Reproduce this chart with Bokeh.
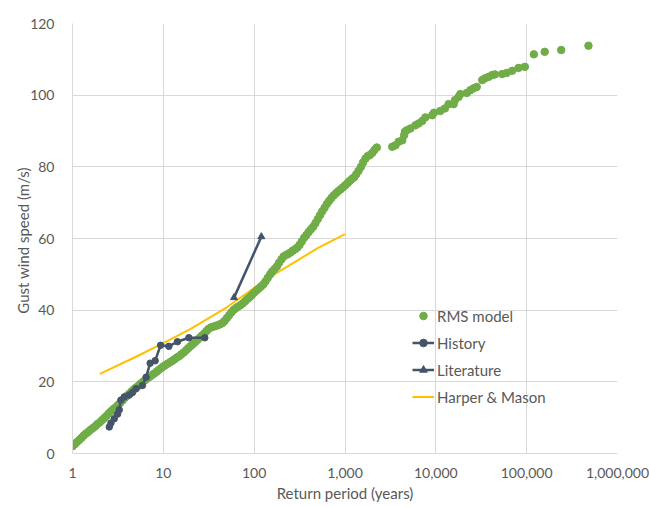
from bokeh.plotting import figure
from bokeh.models import Legend, LegendItem, FixedTicker, NumeralTickFormatter
from bokeh.embed import file_html
from bokeh.resources import INLINE

# ---------------- data ----------------
rms_T = [1.00, 1.06, 1.12, 1.19, 1.26, 1.33, 1.41, 1.50, 1.58, 1.68, 1.78, 1.88, 2.00, 2.11, 2.24, 2.37,
         2.51, 2.66, 2.82, 2.99, 3.16, 3.35, 3.55, 3.76, 3.98, 4.22, 4.47, 4.73, 5.01, 5.31, 5.62, 5.96,
         6.31, 6.68, 7.08, 7.50, 7.94, 8.41, 8.91, 9.44,
         10.0, 10.6, 11.2, 11.9, 12.6, 13.3, 14.1, 15.0, 15.8, 16.8, 17.8, 18.8, 20.0, 21.1, 22.4, 23.7,
         25.1, 26.6, 28.2, 29.9, 31.6, 33.5, 35.5, 37.6, 39.8, 42.2, 44.7, 47.3, 50.1, 53.1, 56.2, 59.6,
         63.1, 66.8, 70.8, 75.0, 79.4, 84.1, 89.1, 94.4,
         100, 106, 112, 119, 126, 133, 141, 150, 158, 168, 178, 188, 200, 211, 224, 237,
         251, 266, 282, 299, 316, 335, 355, 376, 398, 422, 447, 473, 501, 531, 562, 596,
         631, 668, 708, 750, 794, 841, 891, 944,
         1000, 1060, 1120, 1190, 1260, 1330, 1410, 1500, 1580, 1680, 1780, 1880, 2000, 2110, 2240,
         3310, 3590, 3890, 4270, 4470, 4570, 4790, 5250, 5960, 6460, 7080, 7670, 9120, 9550,
         11200, 12600, 13800, 15700, 16200, 17800, 18600, 21900, 24000, 26000, 28200, 32400,
         34700, 38000, 41700, 44700, 53700, 60300, 69200, 81300, 95500,
         120000, 158000, 240000, 479000]
rms_V = [2.0, 2.6, 3.2, 3.8, 4.4, 5.0, 5.6, 6.1, 6.6, 7.1, 7.6, 8.2, 8.7, 9.3, 9.9, 10.5,
         11.2, 11.8, 12.4, 12.9, 13.5, 14.1, 14.8, 15.5, 16.1, 16.7, 17.3, 17.9, 18.4, 18.9, 19.5, 20.0,
         20.5, 21.0, 21.4, 21.9, 22.3, 22.8, 23.3, 23.8,
         24.3, 24.7, 25.1, 25.5, 25.9, 26.3, 26.8, 27.2, 27.7, 28.2, 28.8, 29.4, 30.0, 30.5, 31.1, 31.7,
         32.3, 32.9, 33.5, 34.2, 34.8, 35.2, 35.4, 35.6, 35.8, 36.1, 36.4, 37.0, 37.8, 38.6, 39.4, 40.1,
         40.6, 41.0, 41.4, 41.9, 42.5, 43.1, 43.6, 44.2,
         44.9, 45.5, 46.0, 46.6, 47.2, 48.0, 49.0, 50.0, 50.8, 51.5, 52.2, 53.2, 54.2, 55.0, 55.4, 55.7,
         56.1, 56.6, 57.0, 57.5, 58.2, 59.2, 60.2, 61.0, 61.8, 62.6, 63.3, 64.3, 65.4, 66.5, 67.6, 68.6,
         69.6, 70.5, 71.3, 72.0, 72.6, 73.2, 73.7, 74.2,
         74.8, 75.4, 76.0, 76.6, 77.1, 77.9, 78.9, 80.0, 81.2, 82.3, 83.0, 83.3, 83.9, 84.7, 85.4,
         85.6, 86.0, 87.0, 87.4, 88.8, 89.8, 90.2, 90.7, 91.6, 92.1, 92.8, 93.8, 94.4, 95.1,
         95.6, 96.3, 97.5, 97.5, 98.6, 99.5, 100.3, 100.6, 101.4, 101.9, 102.3, 104.2,
         104.7, 105.1, 105.6, 105.8, 105.9, 106.2, 106.8, 107.6, 107.9,
         111.4, 112.1, 112.6, 113.8]

hist_T = [2.54, 2.65, 2.88, 3.14, 3.27, 3.41, 3.72, 4.21, 4.57, 5.01, 5.89, 6.46, 7.16, 8.13, 9.33,
          11.5, 14.3, 19.1, 28.6]
hist_V = [7.4, 8.5, 9.7, 11.0, 12.2, 14.9, 15.8, 16.3, 17.0, 18.1, 19.0, 21.3, 25.2, 25.9, 30.2,
          29.9, 31.2, 32.3, 32.3]

lit_T = [60, 120]
lit_V = [43.5, 60.5]

hm_T = [2, 5, 10, 20, 50, 100, 200, 500, 1000]
hm_V = [22.2, 27.0, 30.8, 34.8, 40.8, 46.2, 51.2, 57.3, 61.2]

x_ticks = [1, 10, 100, 1000, 10000, 100000, 1000000]
y_ticks = [0, 20, 40, 60, 80, 100, 120]

labels = ["RMS model", "History", "Literature", "Harper & Mason"]
x_title = "Return period (years)"
y_title = "Gust wind speed  (m/s)"

# ---------------- style ----------------
FONT = "Lato"
TXT = "#595959"
GRID = "#D9D9D9"
GREEN = "#70AD47"
NAVY = "#44546A"
GOLD = "#FFC000"

p = figure(width=649, height=507, x_axis_type="log", x_range=(1, 1000000), y_range=(0, 120),
           output_backend="svg", toolbar_location=None,
           min_border_left=72, min_border_right=32, min_border_top=23, min_border_bottom=54)
p.outline_line_color = None
p.background_fill_color = "white"
p.border_fill_color = "white"

for g in (p.xgrid, p.ygrid):
    g.grid_line_color = GRID
    g.grid_line_width = 1
p.xgrid.ticker = FixedTicker(ticks=x_ticks)
p.ygrid.ticker = FixedTicker(ticks=y_ticks)

p.xaxis.ticker = FixedTicker(ticks=x_ticks, minor_ticks=[])
p.yaxis.ticker = FixedTicker(ticks=y_ticks, minor_ticks=[])
p.xaxis.formatter = NumeralTickFormatter(format="0,0")

for ax in (p.xaxis, p.yaxis):
    ax.axis_line_color = GRID
    ax.major_tick_line_color = None
    ax.minor_tick_line_color = None
    ax.major_tick_out = 0
    ax.major_tick_in = 0
    ax.major_label_text_font = FONT
    ax.major_label_text_font_size = "14px"
    ax.major_label_text_color = TXT
    ax.axis_label_text_font = FONT
    ax.axis_label_text_font_size = "15px"
    ax.axis_label_text_font_style = "normal"
    ax.axis_label_text_color = TXT

p.xaxis.axis_label = x_title
p.yaxis.axis_label = y_title
p.xaxis.major_label_standoff = 14
p.xaxis.axis_label_standoff = 3
p.yaxis.major_label_standoff = 18
p.yaxis.axis_label_standoff = -5

# ---------------- glyphs ----------------
hm = p.line(hm_T, hm_V, line_color=GOLD, line_width=2)
rms = p.scatter(rms_T, rms_V, size=7.5, fill_color=GREEN, line_color=GREEN, marker="circle")
hl = p.line(hist_T, hist_V, line_color=NAVY, line_width=2.5)
hp = p.scatter(hist_T, hist_V, size=6.5, fill_color=NAVY, line_color=NAVY, marker="circle")
ll = p.line(lit_T, lit_V, line_color=NAVY, line_width=2.5)
lp = p.scatter(lit_T, lit_V, size=7, fill_color=NAVY, line_color=NAVY, marker="triangle")

legend = Legend(items=[LegendItem(label=labels[0], renderers=[rms]),
                       LegendItem(label=labels[1], renderers=[hl, hp]),
                       LegendItem(label=labels[2], renderers=[ll, lp]),
                       LegendItem(label=labels[3], renderers=[hm])],
                location=(340, 47))
legend.border_line_color = None
legend.background_fill_alpha = 0
legend.padding = 0
legend.margin = 0
legend.spacing = 8
legend.glyph_height = 19
legend.label_height = 19
legend.glyph_width = 22
legend.label_standoff = 3
legend.label_text_font = FONT
legend.label_text_font_size = "15px"
legend.label_text_color = TXT
p.add_layout(legend)

open("out.html", "w").write(file_html(p, INLINE))
